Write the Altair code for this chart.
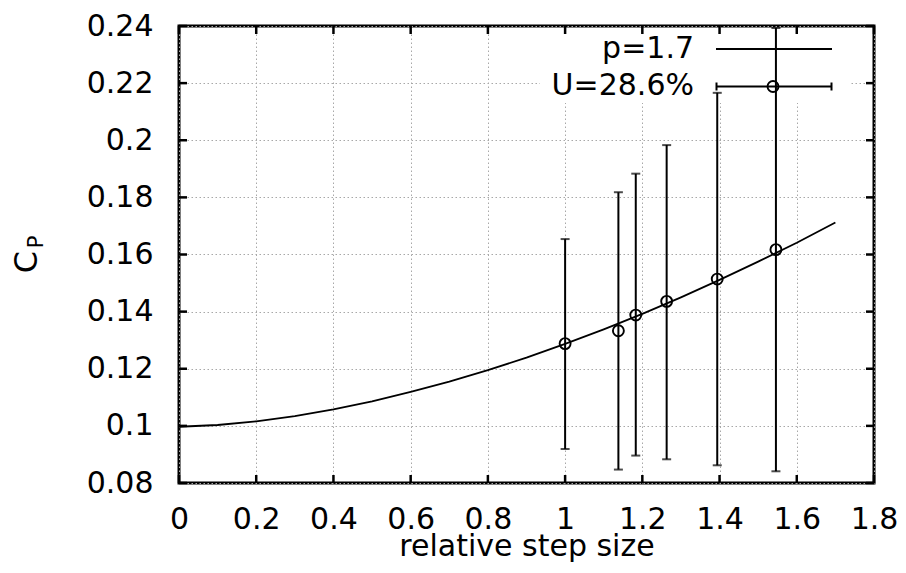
import altair as alt
import pandas as pd

# ---- data ----
pts_h = [1.0, 1.138, 1.183, 1.263, 1.394, 1.546]
pts_cp = [0.1288, 0.1333, 0.1388, 0.1436, 0.1514, 0.1617]
pts_lo = [0.0919, 0.0847, 0.0896, 0.0883, 0.0862, 0.0841]
pts_hi = [0.1654, 0.1818, 0.1883, 0.1983, 0.2166, 0.2393]

fit_h = [0.0, 0.1, 0.2, 0.3, 0.4, 0.5, 0.6, 0.7, 0.8, 0.9, 1.0, 1.1, 1.2, 1.3, 1.4, 1.5, 1.6, 1.7]
fit_cp = [0.0997, 0.1003, 0.1016, 0.1034, 0.1058, 0.1086, 0.1119, 0.1155, 0.1195, 0.1239,
          0.1287, 0.1338, 0.1392, 0.1450, 0.1511, 0.1575, 0.1641, 0.1712]

x_ticks = [0, 0.2, 0.4, 0.6, 0.8, 1.0, 1.2, 1.4, 1.6, 1.8]
y_ticks = [0.08, 0.10, 0.12, 0.14, 0.16, 0.18, 0.20, 0.22, 0.24]

legend_fit = "p=1.7"
legend_pts = "U=28.6%"
x_title = "relative step size"
y_title_main = "C"
y_title_sub = "P"

W, H = 695, 457
FONT = "DejaVu Sans"

pts = pd.DataFrame({"h": pts_h, "cp": pts_cp, "lo": pts_lo, "hi": pts_hi})
fit = pd.DataFrame({"h": fit_h, "cp": fit_cp})
xt = pd.DataFrame({"h": x_ticks})
yt = pd.DataFrame({"cp": y_ticks})
one = alt.Data(values=[{}])

xscale = alt.Scale(domain=[0, 1.8], nice=False, zero=False)
yscale = alt.Scale(domain=[0.08, 0.24], nice=False, zero=False)
xaxis = alt.Axis(values=x_ticks, format=".1~f", title=x_title, labelPadding=21, titlePadding=-3)
yaxis = alt.Axis(values=y_ticks, format=".2~f", title=None, labelPadding=26)


def X(field):
    return alt.X(field, type="quantitative", scale=xscale, axis=xaxis, title=x_title)


def Y(field):
    return alt.Y(field, type="quantitative", scale=yscale, axis=yaxis, title=None)


# white box behind the key (hides grid)
key_bg = alt.Chart(one).mark_rect(color="white").encode(
    x=alt.value(361), x2=alt.value(671), y=alt.value(2), y2=alt.value(77))

curve = alt.Chart(fit).mark_line(color="black", strokeWidth=1.8).encode(
    x=X("h"), y=Y("cp"))

bars = alt.Chart(pts).mark_rule(color="black", strokeWidth=2).encode(
    x=X("h"), y=Y("lo"), y2="hi:Q")
cap_lo = alt.Chart(pts).mark_tick(color="black", size=9, thickness=2, orient="horizontal").encode(
    x=X("h"), y=Y("lo"))
cap_hi = alt.Chart(pts).mark_tick(color="black", size=9, thickness=2, orient="horizontal").encode(
    x=X("h"), y=Y("hi"))
circles = alt.Chart(pts).mark_point(shape="circle", filled=False, color="black",
                                    size=120, strokeWidth=1.9, opacity=1).encode(
    x=X("h"), y=Y("cp"))

# inward ticks on all four sides
tk = dict(color="black", strokeWidth=2.5)
xt_bot = alt.Chart(xt).mark_rule(**tk).encode(x=X("h"), y=alt.value(H), y2=alt.value(H - 8))
xt_top = alt.Chart(xt).mark_rule(**tk).encode(x=X("h"), y=alt.value(0), y2=alt.value(8))
yt_left = alt.Chart(yt).mark_rule(**tk).encode(y=Y("cp"), x=alt.value(0), x2=alt.value(8))
yt_right = alt.Chart(yt).mark_rule(**tk).encode(y=Y("cp"), x=alt.value(W), x2=alt.value(W - 8))

# key
key_txt1 = alt.Chart(one).mark_text(font=FONT, fontSize=30, align="right", baseline="alphabetic").encode(
    x=alt.value(515), y=alt.value(32), text=alt.value(legend_fit))
key_txt2 = alt.Chart(one).mark_text(font=FONT, fontSize=30, align="right", baseline="alphabetic").encode(
    x=alt.value(515), y=alt.value(69), text=alt.value(legend_pts))
key_line = alt.Chart(one).mark_rule(color="black", strokeWidth=1.8).encode(
    x=alt.value(537), x2=alt.value(653), y=alt.value(23))
key_eb = alt.Chart(one).mark_rule(color="black", strokeWidth=2).encode(
    x=alt.value(537), x2=alt.value(653), y=alt.value(60.5))
key_c1 = alt.Chart(one).mark_rule(color="black", strokeWidth=2).encode(
    x=alt.value(537.5), y=alt.value(56.5), y2=alt.value(64.5))
key_c2 = alt.Chart(one).mark_rule(color="black", strokeWidth=2).encode(
    x=alt.value(652.5), y=alt.value(56.5), y2=alt.value(64.5))
key_pt = alt.Chart(one).mark_point(shape="circle", filled=False, color="black",
                                   size=120, strokeWidth=1.9, opacity=1).encode(
    x=alt.value(594), y=alt.value(60.5))

# y title C_P
ytitle_c = alt.Chart(one).mark_text(font=FONT, fontSize=32, angle=270, align="center", baseline="middle").encode(
    x=alt.value(-152), y=alt.value(236), text=alt.value(y_title_main))
ytitle_p = alt.Chart(one).mark_text(font=FONT, fontSize=21, angle=270, align="center", baseline="middle").encode(
    x=alt.value(-142), y=alt.value(216), text=alt.value(y_title_sub))

chart = alt.layer(
    curve, key_bg, bars, cap_lo, cap_hi, circles,
    xt_bot, xt_top, yt_left, yt_right,
    key_txt1, key_txt2, key_line, key_eb, key_c1, key_c2, key_pt,
    ytitle_c, ytitle_p,
).properties(
    width=W, height=H,
    autosize=alt.AutoSizeParams(type="none"),
    padding={"left": 171, "top": 18, "right": 24, "bottom": 82},
    background="white",
).configure_view(
    stroke="black", strokeWidth=3,
).configure_axis(
    labelFont=FONT, labelFontSize=30, labelColor="black",
    titleFont=FONT, titleFontSize=30, titleColor="black", titleFontWeight="normal",
    domain=False, ticks=False,
    grid=True, gridColor="#a8a8a8", gridDash=[1.5, 2.5], gridWidth=1,
    labelFlush=False, labelOverlap=False,
)

chart.save("out.html", embed_options={"renderer": "svg", "actions": False})
